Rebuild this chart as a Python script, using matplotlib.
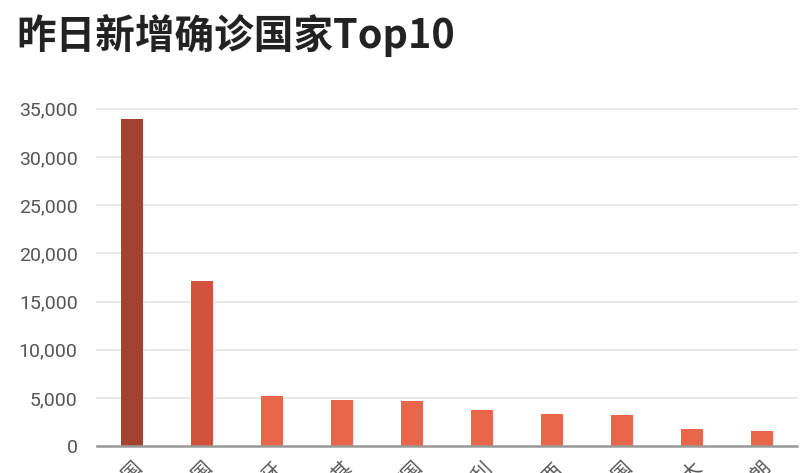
import matplotlib
matplotlib.use("Agg")
import matplotlib.pyplot as plt
from matplotlib.ticker import FuncFormatter

plt.rcParams['font.family'] = ['Roboto', 'Noto Sans CJK SC', 'DejaVu Sans']

countries = ['美国', '法国', '西班牙', '土耳其', '德国', '意大利', '巴西', '英国', '加拿大', '伊朗']
new_cases = [33960, 17120, 5200, 4820, 4650, 3780, 3360, 3190, 1800, 1590]
bar_colors = ['#a3432f', '#d2533b', '#e8674a', '#e8674a', '#e8674a',
              '#e8674a', '#e8674a', '#e8674a', '#e8674a', '#e8674a']
yticks = [0, 5000, 10000, 15000, 20000, 25000, 30000, 35000]

fig = plt.figure(figsize=(8.09, 4.73), dpi=100)
ax = fig.add_axes([0.12, 0.057, 0.865, 0.713])

ax.bar(range(len(countries)), new_cases, width=0.31, color=bar_colors, zorder=3)

ax.set_xlim(-0.5, len(countries) - 0.5)
ax.set_ylim(0, 35000)
ax.set_yticks(yticks)
ax.yaxis.set_major_formatter(FuncFormatter(lambda v, p: f'{int(v):,}'))
ax.grid(axis='y', color='#e6e6e6', linewidth=1.3, zorder=0)
for gl in ax.get_ygridlines():
    gl.set_clip_on(False)

for s in ['top', 'right', 'left']:
    ax.spines[s].set_visible(False)
ax.spines['bottom'].set_color('#9a9a9a')
ax.spines['bottom'].set_linewidth(1.8)
ax.spines['bottom'].set_zorder(4)

ax.tick_params(axis='y', length=0, pad=14, labelsize=14, labelcolor='#555555')
ax.tick_params(axis='x', length=0, pad=8, labelsize=14, labelcolor='#555555')
ax.set_xticks(range(len(countries)))
ax.set_xticklabels(countries, rotation=45, ha='right', va='top',
                   rotation_mode='anchor', family=['Noto Sans CJK SC'])

fig.text(0.02, 0.925, '昨日新增确诊国家Top10', fontsize=28.5, fontweight='bold',
         color='#222222', ha='left', va='center',
         family=['Noto Sans CJK SC', 'DejaVu Sans'])

fig.savefig('out.png', dpi=100)
